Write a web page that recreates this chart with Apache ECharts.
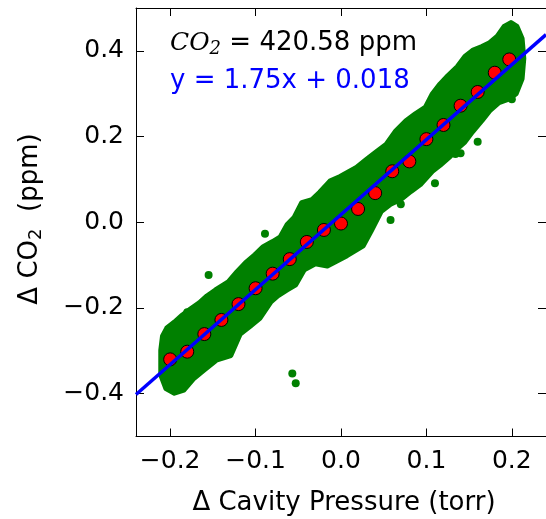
<!DOCTYPE html>
<html><head><meta charset="utf-8">
<script src="https://cdn.jsdelivr.net/npm/echarts@6/dist/echarts.min.js"></script>
<style>html,body{margin:0;padding:0;background:#fff;} #c{width:546px;height:519px;}</style>
</head><body><div id="c"></div>
<script>
// Tick labels
const xTicks = [-0.2, -0.1, 0.0, 0.1, 0.2];
const yTicks = [-0.4, -0.2, 0.0, 0.2, 0.4];

// Binned means (red circles)
const binX = [-0.2, -0.18, -0.16, -0.14, -0.12, -0.10, -0.08, -0.06, -0.04, -0.02, 0.0, 0.02, 0.04, 0.06, 0.08, 0.10, 0.12, 0.14, 0.16, 0.18, 0.197];
const binY = [-0.320, -0.302, -0.261, -0.228, -0.191, -0.154, -0.120, -0.086, -0.046, -0.018, -0.003, 0.031, 0.068, 0.119, 0.142, 0.194, 0.227, 0.272, 0.304, 0.349, 0.380];

// Fit line y = 1.75x + 0.018 endpoints
const fitX = [-0.24, 0.24];
const fitY = [-0.402, 0.438];

// Dense raw-data cloud (green) outline
const bandUpperX = [-0.211, -0.209, -0.204, -0.195, -0.186, -0.176, -0.166, -0.157, -0.147, -0.132, -0.122, -0.112, -0.101, -0.091, -0.080, -0.071, -0.063, -0.055, -0.046, -0.034, -0.025, -0.013, -0.001, 0.018, 0.030, 0.041, 0.053, 0.064, 0.076, 0.087, 0.099, 0.107, 0.116, 0.125, 0.136, 0.145, 0.154, 0.165, 0.174, 0.183, 0.191, 0.199, 0.206, 0.212, 0.214];
const bandUpperY = [-0.299, -0.266, -0.247, -0.233, -0.217, -0.202, -0.188, -0.172, -0.158, -0.139, -0.116, -0.095, -0.076, -0.057, -0.045, -0.034, -0.005, 0.011, 0.046, 0.053, 0.070, 0.096, 0.107, 0.128, 0.147, 0.164, 0.182, 0.213, 0.237, 0.253, 0.269, 0.300, 0.323, 0.342, 0.363, 0.387, 0.401, 0.410, 0.419, 0.434, 0.457, 0.466, 0.457, 0.429, 0.382];
const bandLowerX = [0.212, 0.205, 0.197, 0.185, 0.174, 0.165, 0.154, 0.145, 0.136, 0.128, 0.116, 0.107, 0.093, 0.082, 0.070, 0.058, 0.047, 0.035, 0.026, 0.007, -0.016, -0.030, -0.043, -0.053, -0.063, -0.074, -0.082, -0.095, -0.106, -0.118, -0.129, -0.146, -0.161, -0.172, -0.184, -0.195, -0.205, -0.211];
const bandLowerY = [0.335, 0.300, 0.288, 0.279, 0.260, 0.237, 0.211, 0.187, 0.171, 0.154, 0.133, 0.119, 0.088, 0.072, 0.053, 0.042, 0.025, -0.022, -0.055, -0.078, -0.102, -0.097, -0.111, -0.146, -0.158, -0.172, -0.186, -0.224, -0.242, -0.261, -0.311, -0.322, -0.346, -0.364, -0.392, -0.399, -0.388, -0.357];

// Stray raw points outside the dense cloud
const outlierX = [-0.155, -0.180, -0.189, -0.057, -0.053, -0.089, 0.070, 0.058, 0.110, 0.134, 0.160, 0.200, 0.140];
const outlierY = [-0.123, -0.210, -0.235, -0.353, -0.376, -0.027, 0.042, 0.005, 0.091, 0.159, 0.188, 0.287, 0.161];

const FONT = "'DejaVu Sans', sans-serif";
const fmt = v => (v < -1e-9 ? '\u2212' : '') + Math.abs(v).toFixed(1);

const bandPts = [];
bandUpperX.forEach((x, i) => bandPts.push([x, bandUpperY[i]]));
bandLowerX.forEach((x, i) => bandPts.push([x, bandLowerY[i]]));

const chart = echarts.init(document.getElementById('c'), null, {renderer: 'canvas'});
const axisLineStyle = {show: true, onZero: false, lineStyle: {color: '#000', width: 1}};
const tickStyle = (vals) => ({show: true, inside: true, length: 8, customValues: vals, lineStyle: {color: '#000', width: 1}});

chart.setOption({
  animation: false,
  backgroundColor: '#fff',
  grid: {left: 136, top: 8, width: 416.5, height: 428.5, containLabel: false},
  xAxis: [
    {type: 'value', min: -0.24, max: 0.24, position: 'bottom',
     axisLine: axisLineStyle, axisTick: tickStyle(xTicks), splitLine: {show: false},
     axisLabel: {customValues: xTicks, formatter: fmt, fontSize: 25, color: '#000', margin: 12, fontFamily: FONT}},
    {type: 'value', min: -0.24, max: 0.24, position: 'top',
     axisLine: axisLineStyle, axisTick: tickStyle(xTicks), splitLine: {show: false},
     axisLabel: {show: false}}
  ],
  yAxis: [
    {type: 'value', min: -0.5, max: 0.5, position: 'left',
     axisLine: axisLineStyle, axisTick: tickStyle(yTicks), splitLine: {show: false},
     axisLabel: {customValues: yTicks, formatter: fmt, fontSize: 25, color: '#000', margin: 12, fontFamily: FONT}},
    {type: 'value', min: -0.5, max: 0.5, position: 'right',
     axisLine: axisLineStyle, axisTick: tickStyle(yTicks), splitLine: {show: false},
     axisLabel: {show: false}}
  ],
  series: [
    {type: 'custom', xAxisIndex: 0, yAxisIndex: 0, silent: true, z: 1, clip: true,
     data: [[0, 0]],
     renderItem: (params, api) => ({
       type: 'polygon',
       shape: {points: bandPts.map(p => api.coord(p))},
       style: {fill: '#008000', stroke: '#008000', lineWidth: 5, lineJoin: 'round'}
     })},
    {type: 'scatter', xAxisIndex: 0, yAxisIndex: 0, z: 2, silent: true,
     symbolSize: 8, itemStyle: {color: '#008000', opacity: 1},
     data: outlierX.map((x, i) => [x, outlierY[i]])},
    {type: 'scatter', xAxisIndex: 0, yAxisIndex: 0, z: 3, silent: true,
     symbolSize: 13, itemStyle: {color: '#ff0000', borderColor: '#000', borderWidth: 1, opacity: 1},
     data: binX.map((x, i) => [x, binY[i]])},
    {type: 'line', xAxisIndex: 0, yAxisIndex: 0, z: 4, silent: true, showSymbol: false,
     lineStyle: {color: '#0000ff', width: 3.5},
     data: fitX.map((x, i) => [x, fitY[i]])}
  ],
  graphic: [
    {type: 'text', x: 170, y: 43, z: 10,
     style: {text: '{m|CO}{s|2}{n| = 420.58 ppm}', align: 'left', verticalAlign: 'middle',
       rich: {
         m: {fontFamily: "'DejaVu Serif', serif", fontStyle: 'italic', fontSize: 25, fill: '#000', lineHeight: 30},
         s: {fontFamily: "'DejaVu Serif', serif", fontStyle: 'italic', fontSize: 18, fill: '#000', lineHeight: 20, verticalAlign: 'bottom'},
         n: {fontFamily: FONT, fontSize: 26, fill: '#000', lineHeight: 30}
       }}},
    {type: 'text', x: 170, y: 81, z: 10,
     style: {text: 'y = 1.75x + 0.018', fontFamily: FONT, fontSize: 26, fill: '#0000ff', align: 'left', verticalAlign: 'middle'}},
    {type: 'text', x: 344, y: 503, z: 10,
     style: {text: '\u0394 Cavity Pressure (torr)', fontFamily: FONT, fontSize: 26, fill: '#000', align: 'center', verticalAlign: 'middle'}},
    {type: 'text', x: 30, y: 219, rotation: Math.PI / 2, z: 10,
     style: {text: '{n|\u0394 CO}{s|2}{n|  (ppm)}', align: 'center', verticalAlign: 'middle',
       rich: {
         n: {fontFamily: FONT, fontSize: 26, fill: '#000', lineHeight: 30},
         s: {fontFamily: FONT, fontSize: 18, fill: '#000', lineHeight: 18, verticalAlign: 'bottom'}
       }}}
  ]
});
</script>
</body></html>
